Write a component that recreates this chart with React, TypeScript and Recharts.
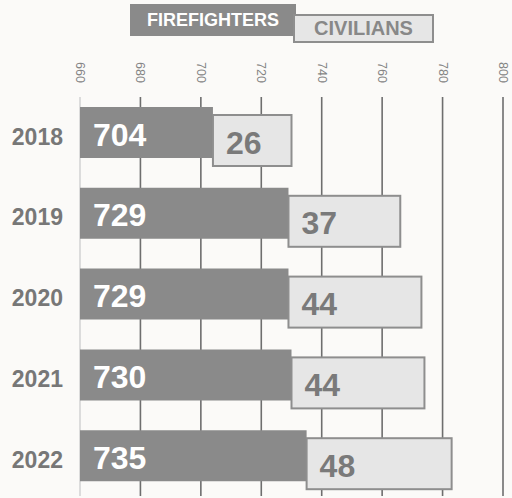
import React from 'react';
import { BarChart, Bar, XAxis, YAxis, CartesianGrid, LabelList } from 'recharts';

const years = ['2018', '2019', '2020', '2021', '2022'];
const firefighters = [704, 729, 729, 730, 735];
const civilians = [26, 37, 44, 44, 48];
const xTicks = [660, 680, 700, 720, 740, 760, 780, 800];
const seriesNames = ['FIREFIGHTERS', 'CIVILIANS'];

const rows = years.map((year, i) => ({
  year,
  ff: firefighters[i],
  civ: civilians[i],
  ffRange: [xTicks[0], firefighters[i]],
  civRange: [firefighters[i], firefighters[i] + civilians[i]],
}));

const FONT = '"Liberation Sans", Arial, sans-serif';
const BG = '#fbfaf8';
const DARK = '#8a8a8a';
const LIGHT = '#e6e6e6';
const EDGE = '#8e8e8e';
const CIV_SHIFT = 8;
const GRID_GAP = 5;

const TopTick = (props: any) => {
  const { x, y, payload } = props;
  return (
    <text
      transform={`translate(${x},${y - 30}) rotate(90)`}
      textAnchor="start"
      dominantBaseline="central"
      fontFamily={FONT}
      fontSize={12.5}
      fill="#858585"
    >
      {payload.value}
    </text>
  );
};

const CivShape = (props: any) => {
  const { x, y, width, height } = props;
  return (
    <rect
      x={x}
      y={y + CIV_SHIFT}
      width={width}
      height={height}
      fill={LIGHT}
      stroke={EDGE}
      strokeWidth={2}
    />
  );
};

const makeLabel = (color: string, shift: number) => (props: any) => {
  const { x, y, height, value } = props;
  return (
    <text
      x={Number(x) + 13}
      y={Number(y) + Number(height) / 2 + 2 + shift}
      dominantBaseline="central"
      fontFamily={FONT}
      fontWeight="bold"
      fontSize={32}
      fill={color}
    >
      {value}
    </text>
  );
};

const gridLine = (props: any) => {
  const { x1, y1, x2, y2, index } = props;
  return (
    <line
      key={`g-${index}`}
      x1={x1}
      y1={Number(y1) + GRID_GAP}
      x2={x2}
      y2={y2}
      stroke={index === 0 ? '#dcdcdc' : '#6e6e6e'}
      strokeWidth={index === 0 ? 2 : 1.6}
    />
  );
};

export default function App() {
  return (
    <div style={{ position: 'fixed', left: 0, top: 0, width: 512, height: 498, background: BG, overflow: 'hidden' }}>
      <BarChart
        width={512}
        height={498}
        data={rows}
        layout="vertical"
        margin={{ top: 47, right: 9, bottom: 2, left: 0 }}
      >
        <CartesianGrid horizontal={false} vertical={gridLine} yAxisId="main" />
        <XAxis
          type="number"
          orientation="top"
          domain={[xTicks[0], xTicks[xTicks.length - 1]]}
          ticks={xTicks}
          height={45}
          axisLine={false}
          tickLine={false}
          tickSize={0}
          tickMargin={0}
          tick={<TopTick />}
          interval={0}
        />
        <YAxis
          yAxisId="main"
          type="category"
          dataKey="year"
          width={80}
          axisLine={false}
          tickLine={false}
          tickSize={0}
          tickMargin={17}
          tick={{ fill: '#777', fontSize: 23, fontWeight: 'bold', fontFamily: FONT, dy: 4 }}
        />
        <YAxis yAxisId="civ" type="category" dataKey="year" hide width={0} />
        <Bar yAxisId="main" dataKey="ffRange" fill={DARK} barSize={51} isAnimationActive={false}>
          <LabelList dataKey="ff" content={makeLabel('#ffffff', 0)} />
        </Bar>
        <Bar yAxisId="civ" dataKey="civRange" barSize={51} shape={<CivShape />} isAnimationActive={false}>
          <LabelList dataKey="civ" content={makeLabel('#7a7a7a', CIV_SHIFT)} />
        </Bar>
      </BarChart>
      <div
        style={{
          position: 'absolute', left: 130, top: 4, width: 166, height: 32, background: DARK,
          color: '#fff', fontFamily: FONT, fontWeight: 'bold', fontSize: 18,
          display: 'flex', alignItems: 'center', justifyContent: 'center', boxSizing: 'border-box',
        }}
      >
        {seriesNames[0]}
      </div>
      <div
        style={{
          position: 'absolute', left: 293, top: 14, width: 141, height: 29, background: LIGHT,
          border: `2.5px solid ${EDGE}`, color: '#888', fontFamily: FONT, fontWeight: 'bold', fontSize: 20,
          display: 'flex', alignItems: 'center', justifyContent: 'center', boxSizing: 'border-box',
        }}
      >
        {seriesNames[1]}
      </div>
    </div>
  );
}
